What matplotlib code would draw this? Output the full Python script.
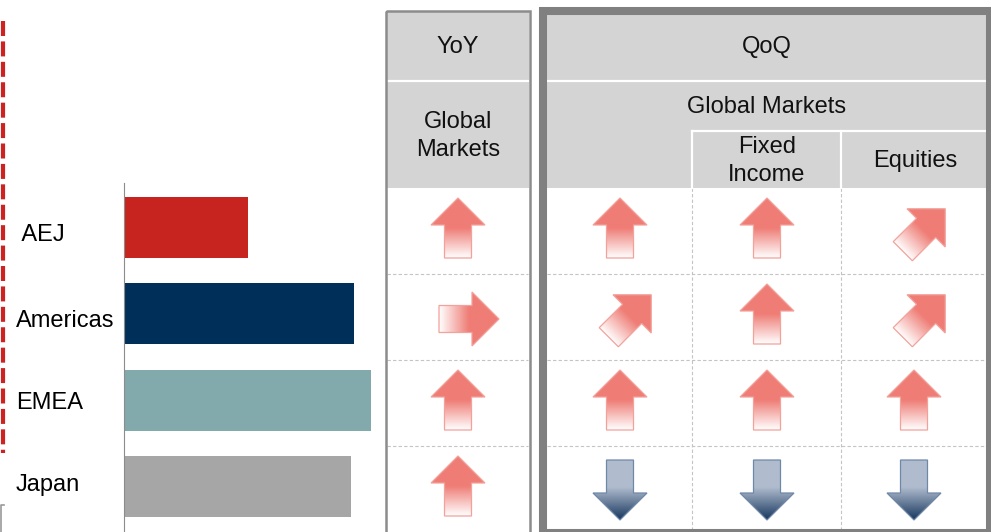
"""Regional revenue bars next to a YoY / QoQ trend-arrow table."""

import matplotlib.pyplot as plt
import numpy as np
from matplotlib.patches import Polygon, Rectangle

plt.rcParams["font.family"] = ["Liberation Sans", "DejaVu Sans"]

# ---- data -------------------------------------------------------------
regions = [" AEJ", "Americas", "EMEA", "Japan"]
region_values = [0.50, 0.93, 1.00, 0.92]
region_colors = ["#C8241F", "#00305A", "#82A9AC", "#A6A6A6"]

# arrow direction per region, in degrees (90 = up, 45 = up-right, 0 = right, -90 = down)
yoy_global = [90, 0, 90, 90]
qoq_global = [90, 45, 90, -90]
qoq_fixed_income = [90, 90, 90, -90]
qoq_equities = [45, 45, 90, -90]

header_yoy = "YoY"
header_qoq = "QoQ"
sub_global = "Global Markets"
sub_yoy_global = "Global\nMarkets"
sub_fixed_income = "Fixed\nIncome"
sub_equities = "Equities"

# ---- layout (pixels, y downwards) --------------------------------------
W, H = 991, 532
FONT = 17
HEADER_GREY = "#D4D4D4"
BORDER_GREY = "#808080"
ROW_TOP = 188
ROW_H = 86
COL_X = [458, 620, 767, 914]
# nudges so each arrow sits in its cell like the original artwork
ARROW_SHIFT = {90: (0, -3), 45: (10, -1), 0: (11, 2), -90: (0, 1)}
# vertical label nudges (bar units) for the region names
LABEL_SHIFT = [0.06, 0.06, 0.0, -0.05]

RED = {"tip": "#EF7D76", "tail": "#FFFFFF", "edge": "#F3A19B"}
BLUE = {"tip": "#17375E", "tail": "#B0BCCE", "edge": "#7088A8"}


def hex_rgb(c):
    c = c.lstrip("#")
    return np.array([int(c[i:i + 2], 16) / 255 for i in (0, 2, 4)])


def draw_arrow(ax, cx, cy, angle):
    """Block arrow centred at (cx, cy) with a gradient fill along its length."""
    a = np.deg2rad(angle)
    d = np.array([np.cos(a), -np.sin(a)])
    p = np.array([np.sin(a), np.cos(a)])
    length = 60.0
    local = [(-30, -13.5), (3, -13.5), (3, -27), (30, 0), (3, 27), (3, 13.5), (-30, 13.5)]
    pts = np.array([[cx, cy] + u * d + v * p for u, v in local])

    down = angle < 0
    pal = BLUE if down else RED
    patch = Polygon(pts, closed=True, facecolor="none", edgecolor=pal["edge"], lw=0.9, zorder=4)
    ax.add_patch(patch)

    x0, y0 = pts.min(axis=0) - 1
    x1, y1 = pts.max(axis=0) + 1
    n = 120
    X, Y = np.meshgrid(np.linspace(x0, x1, n), np.linspace(y0, y1, n))
    t = ((X - cx) * d[0] + (Y - cy) * d[1]) / length + 0.5
    if down:
        f = np.clip((t - 0.45) / 0.55, 0, 1)
    else:
        f = np.clip(t / 0.5, 0.03, 1)
    tail, tip = hex_rgb(pal["tail"]), hex_rgb(pal["tip"])
    img = tail[None, None, :] * (1 - f[..., None]) + tip[None, None, :] * f[..., None]
    im = ax.imshow(img, extent=(x0, x1, y1, y0), origin="upper",
                   aspect="auto", interpolation="bilinear", zorder=3)
    im.set_clip_path(patch)


fig = plt.figure(figsize=(W / 100, H / 100), dpi=100)

# background axes in pixel coordinates for the table
ax = fig.add_axes([0, 0, 1, 1])
ax.set_xlim(0, W)
ax.set_ylim(H, 0)
ax.axis("off")

# red dashed frame edge and the small grey mark below it
ax.plot([3, 3], [21, 453], color="#CC2222", lw=3.0, linestyle=(0, (3.6, 1.3)),
        solid_capstyle="butt")
ax.plot([1, 1, 4], [532, 505, 505], color="#9A9A9A", lw=1.2)

# header fills
ax.add_patch(Rectangle((386, 12), 143, ROW_TOP - 12, facecolor=HEADER_GREY, lw=0))
ax.add_patch(Rectangle((547, 15), 439, ROW_TOP - 15, facecolor=HEADER_GREY, lw=0))

# white separators inside headers
white = dict(color="white", lw=1.6, zorder=2)
ax.plot([386, 529], [81, 81], **white)
ax.plot([547, 986], [81, 81], **white)
ax.plot([692, 986], [131, 131], **white)
ax.plot([692, 692], [131, ROW_TOP], **white)
ax.plot([841, 841], [131, ROW_TOP], **white)

# dashed grid in the data area
dash = dict(color="#C4C4C4", lw=0.8, linestyle=(0, (3, 2)), zorder=1)
for i in range(1, 4):
    y = ROW_TOP + i * ROW_H
    ax.plot([387, 528], [y, y], **dash)
    ax.plot([547, 986], [y, y], **dash)
for x in (692, 841):
    ax.plot([x, x], [ROW_TOP, 529], **dash)

# column borders
ax.add_patch(Rectangle((386, 11), 143.5, 540, facecolor="none",
                       edgecolor="#8C8C8C", lw=1.8, zorder=5))
ax.add_patch(Rectangle((543, 11), 447, 522, facecolor="none",
                       edgecolor=BORDER_GREY, lw=5.8, zorder=5))

# header texts
txt = dict(fontsize=FONT, ha="center", va="center", color="#111111", zorder=6)
ax.text(458, 47, header_yoy, **txt)
ax.text(458, 136, sub_yoy_global, linespacing=1.35, **txt)
ax.text(767, 47, header_qoq, **txt)
ax.text(767, 107, sub_global, **txt)
ax.text(767, 161, sub_fixed_income, linespacing=1.35, **txt)
ax.text(915, 161, sub_equities, **txt)

# trend arrows
columns = [yoy_global, qoq_global, qoq_fixed_income, qoq_equities]
for cx, col in zip(COL_X, columns):
    for r, angle in enumerate(col):
        dx, dy = ARROW_SHIFT[angle]
        cy = ROW_TOP + ROW_H * (r + 0.5)
        draw_arrow(ax, cx + dx, cy + dy, angle)

ax.set_xlim(0, W)
ax.set_ylim(H, 0)

# bar chart of regions
bx = fig.add_axes([124 / W, 0, 247 / W, (H - 183) / H])
pos = np.arange(len(regions))
bx.barh(pos, region_values, height=0.705, color=region_colors)
bx.set_xlim(0, 1.0)
bx.set_ylim(3.52, -0.51)
bx.set_yticks(pos + np.array(LABEL_SHIFT))
bx.set_yticklabels(regions, fontsize=FONT, ha="left")
bx.tick_params(axis="y", length=0, pad=78)
bx.set_xticks([])
for side in ("top", "right", "bottom"):
    bx.spines[side].set_visible(False)
bx.spines["left"].set_color("#8C8C8C")
bx.spines["left"].set_linewidth(0.8)
bx.patch.set_alpha(0)

fig.savefig("out.png", dpi=100)
